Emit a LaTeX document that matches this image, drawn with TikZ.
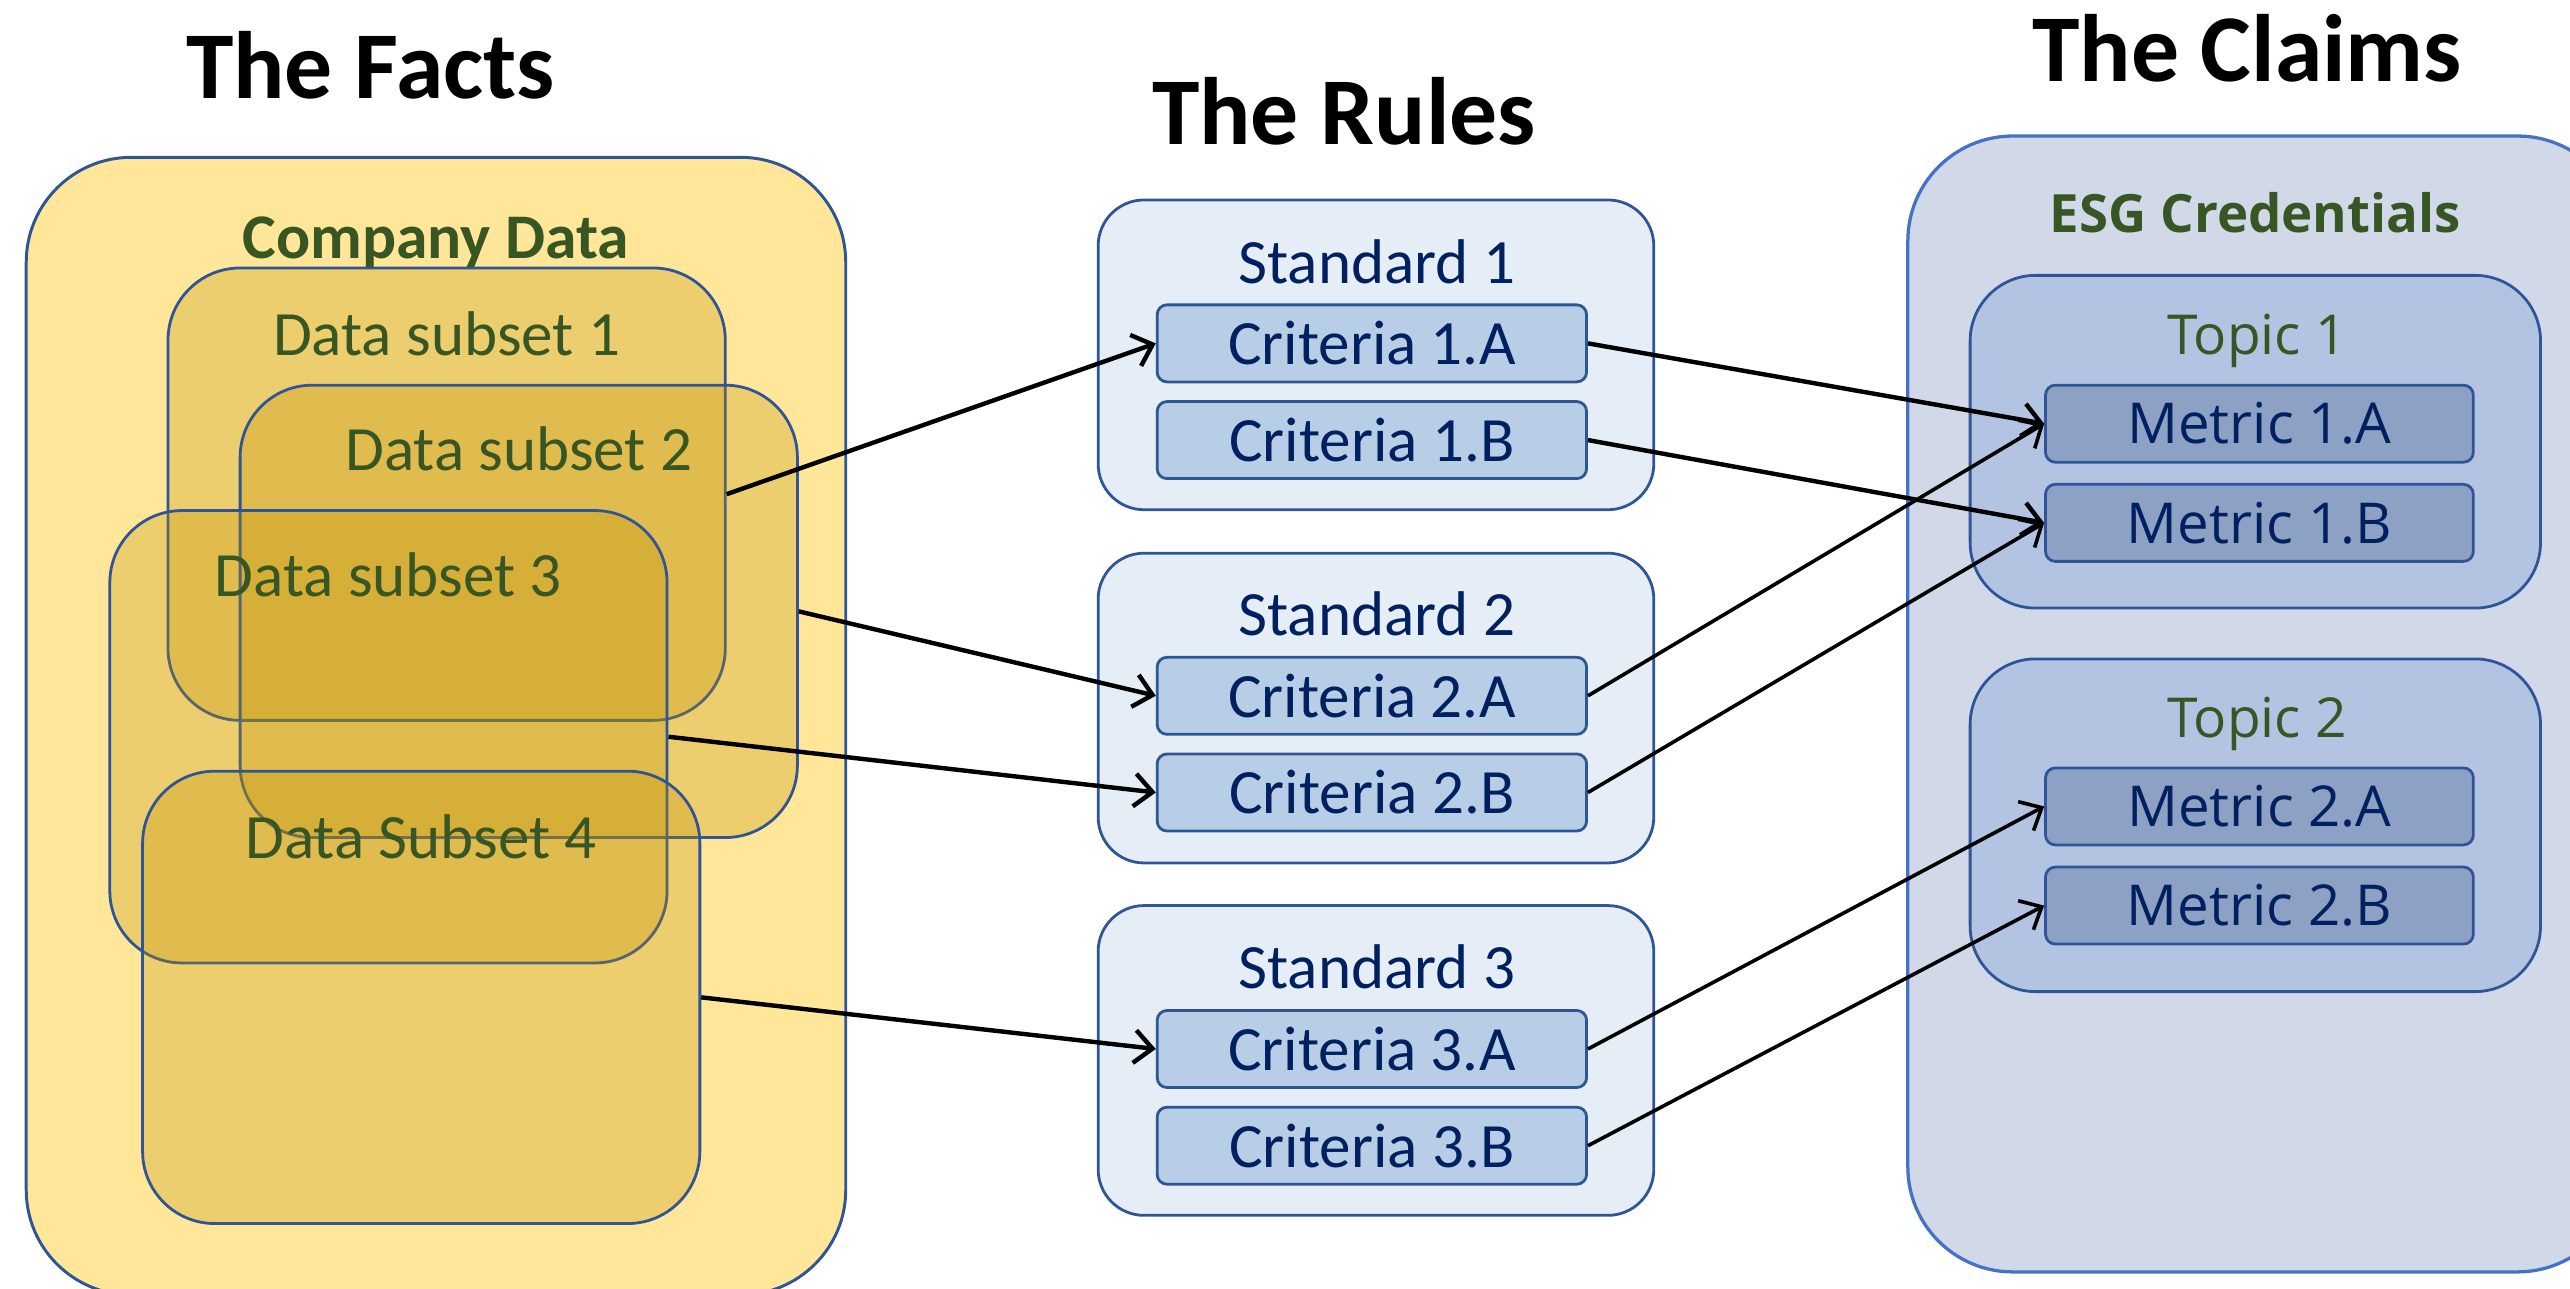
\documentclass[tikz,border=0pt]{standalone}
\usepackage{fontspec}
\setmainfont{Carlito}
\newfontfamily\osans{Open Sans}
\usetikzlibrary{arrows.meta}

\definecolor{factsfill}{HTML}{FFE699}
\definecolor{subsetfill}{HTML}{BF9000}
\definecolor{edgeblue}{HTML}{2F5597}
\definecolor{lightedge}{HTML}{4472C4}
\definecolor{stdfill}{HTML}{E5EDF7}
\definecolor{critfill}{HTML}{B7CEE6}
\definecolor{claimfill}{HTML}{D1D9E8}
\definecolor{topicfill}{HTML}{B3C3E2}
\definecolor{metricfill}{HTML}{8DA1C4}
\definecolor{navytext}{HTML}{002060}
\definecolor{greentext}{HTML}{375623}

\tikzset{
  title/.style={anchor=base, inner sep=0pt, font=\fontsize{29.2}{34}\selectfont\bfseries},
  outerbox/.style={draw=edgeblue, line width=0.9pt, fill=factsfill, rounded corners=32pt, inner sep=0pt},
  subsetbox/.style={draw=edgeblue, line width=0.85pt, fill=subsetfill, fill opacity=0.28,
    rounded corners=22pt, inner sep=0pt, minimum width=170pt, minimum height=138pt},
  subsetlabel/.style={anchor=base, inner sep=0pt, text=greentext, font=\fontsize{19.25}{23}\selectfont},
  stdbox/.style={draw=edgeblue, line width=0.85pt, fill=stdfill, rounded corners=14pt, inner sep=0pt,
    minimum width=169.5pt, minimum height=94.5pt},
  stdlabel/.style={anchor=base, inner sep=0pt, text=navytext, font=\fontsize{19.25}{23}\selectfont},
  critbox/.style={draw=edgeblue, line width=0.85pt, fill=critfill, rounded corners=3pt, inner sep=0pt,
    minimum width=131pt, minimum height=23.5pt, text=navytext, font=\fontsize{19.25}{23}\selectfont},
  claimbox/.style={draw=lightedge, line width=1pt, fill=claimfill, rounded corners=32pt, inner sep=0pt},
  topicbox/.style={draw=edgeblue, line width=0.85pt, fill=topicfill, rounded corners=20pt, inner sep=0pt,
    minimum width=174pt, minimum height=101.5pt},
  topiclabel/.style={anchor=base, inner sep=0pt, text=greentext, font=\osans\fontsize{16.8}{20}\selectfont},
  metricbox/.style={draw=edgeblue, line width=0.85pt, fill=metricfill, rounded corners=3pt, inner sep=0pt,
    minimum width=130.5pt, minimum height=23.5pt, text=navytext, font=\osans\fontsize{17.2}{20}\selectfont},
  link/.style={line width=1.35pt, -{Straight Barb[length=5.5pt,width=10pt,line width=1.35pt]}},
  thinlink/.style={line width=1.1pt, -{Straight Barb[length=5.5pt,width=10pt,line width=1.1pt]}}
}

\begin{document}
\begin{tikzpicture}[x=0.5pt, y=-0.5pt]
\useasboundingbox (0,0) rectangle (1568,786.4);

% column titles
\node[title] (tfacts) at (226,60) {The Facts};
\node[title] (trules) at (820,88) {The Rules};
\node[title] (tclaims) at (1371,50) {The Claims};

% ---- the facts: company data and its overlapping subsets
\node[outerbox, minimum width=250pt, minimum height=347pt] (facts) at (266,443) {};
\node[anchor=base, inner sep=0pt, text=greentext, font=\fontsize{19.4}{23}\selectfont\bfseries]
  (company) at (266,158) {Company Data};

\node[subsetbox] (ds1) at (272.5,301.5) {};
\node[subsetlabel] (ds1t) at (272.5,217) {Data subset 1};
\node[subsetbox] (ds2) at (316.5,373) {};
\node[subsetlabel] (ds2t) at (316.5,287) {Data subset 2};
\node[subsetbox] (ds3) at (237,449.5) {};
\node[subsetlabel] (ds3t) at (237,364) {Data subset 3};
\node[subsetbox] (ds4) at (257,608.5) {};
\node[subsetlabel] (ds4t) at (257,524) {Data Subset 4};

% ---- the rules: standards and their criteria
\node[stdbox] (std1) at (839.5,216.5) {};
\node[stdlabel] (std1t) at (840,173) {Standard 1};
\node[critbox] (c1a) at (837,209.5) {Criteria 1.A};
\node[critbox] (c1b) at (837,268.5) {Criteria 1.B};

\node[stdbox] (std2) at (839.5,432) {};
\node[stdlabel] (std2t) at (840,388) {Standard 2};
\node[critbox] (c2a) at (837,424.5) {Criteria 2.A};
\node[critbox] (c2b) at (837,483.5) {Criteria 2.B};

\node[stdbox] (std3) at (839.5,647) {};
\node[stdlabel] (std3t) at (840,603) {Standard 3};
\node[critbox] (c3a) at (837,640) {Criteria 3.A};
\node[critbox] (c3b) at (837,699) {Criteria 3.B};

% ---- the claims: credentials, topics and metrics
\node[claimbox, minimum width=218pt, minimum height=346.5pt] (claims) at (1382,429.5) {};
\node[anchor=base, inner sep=0pt, text=greentext, font=\osans\fontsize{16.1}{19}\selectfont\bfseries]
  (esg) at (1376,142) {ESG Credentials};

\node[topicbox] (top1) at (1376,269.5) {};
\node[topiclabel] (top1t) at (1377,216) {Topic 1};
\node[metricbox] (m1a) at (1378.5,258.5) {Metric 1.A};
\node[metricbox] (m1b) at (1378.5,319) {Metric 1.B};

\node[topicbox] (top2) at (1376,503.5) {};
\node[topiclabel] (top2t) at (1377,450) {Topic 2};
\node[metricbox] (m2a) at (1378.5,492) {Metric 2.A};
\node[metricbox] (m2b) at (1378.5,552.5) {Metric 2.B};

% ---- connectors
\draw[link] (ds1.east) -- (c1a.west);
\draw[link] (ds2.east) -- (c2a.west);
\draw[link] (ds3.east) -- (c2b.west);
\draw[link] (ds4.east) -- (c3a.west);

\draw[link] (c1a.east) -- (m1a.west);
\draw[link] (c1b.east) -- (m1b.west);
\draw[thinlink] (c2a.east) -- (m1a.west);
\draw[thinlink] (c2b.east) -- (m1b.west);
\draw[thinlink] (c3a.east) -- (m2a.west);
\draw[thinlink] (c3b.east) -- (m2b.west);
\end{tikzpicture}
\end{document}
